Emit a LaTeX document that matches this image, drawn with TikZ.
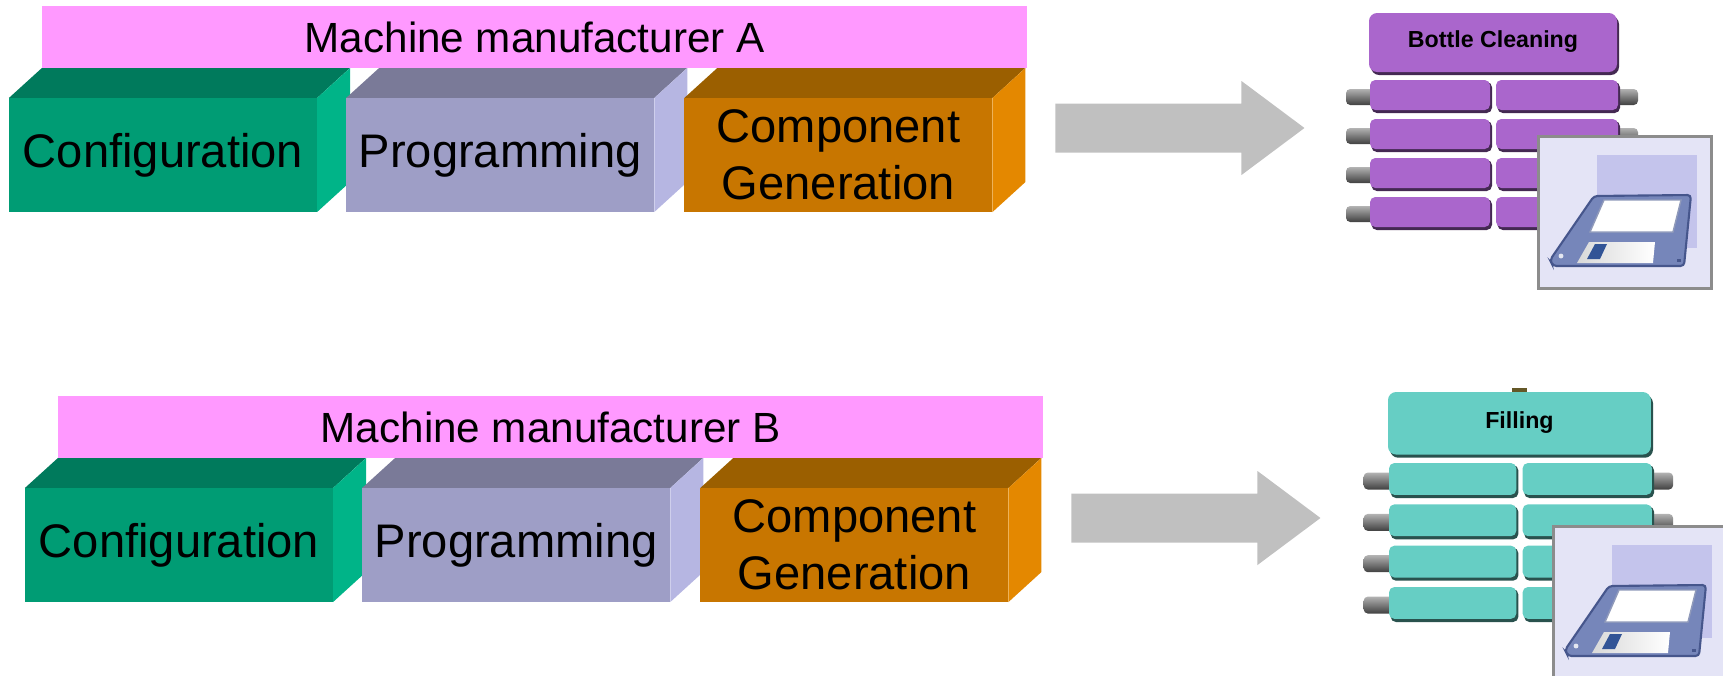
\documentclass[tikz,border=0pt]{standalone}
\usepackage{fontspec}
\setmainfont{Liberation Sans}
\usetikzlibrary{positioning, backgrounds}
\definecolor{mfrPink}{RGB}{255,153,255}
\definecolor{cfgFront}{RGB}{0,156,116}
\definecolor{cfgTop}{RGB}{0,122,92}
\definecolor{cfgSide}{RGB}{0,180,136}
\definecolor{prgFront}{RGB}{158,158,198}
\definecolor{prgTop}{RGB}{122,122,152}
\definecolor{prgSide}{RGB}{182,182,226}
\definecolor{cmpFront}{RGB}{200,118,0}
\definecolor{cmpTop}{RGB}{155,95,0}
\definecolor{cmpSide}{RGB}{228,136,0}
\definecolor{arrowGrey}{RGB}{192,192,192}
\definecolor{stationPurple}{RGB}{170,102,204}
\definecolor{stationTeal}{RGB}{102,206,196}
\definecolor{panelFill}{RGB}{228,228,246}
\definecolor{panelInner}{RGB}{196,196,236}
\definecolor{panelEdge}{RGB}{140,140,140}
\definecolor{diskBlue}{RGB}{118,134,186}
\definecolor{diskEdge}{RGB}{70,86,140}
\definecolor{diskSlot}{RGB}{50,84,150}
\definecolor{markOlive}{RGB}{100,88,40}

% top and side face of a block, drawn from its front node
\newcommand\cubefaces[3]{%
  \fill[#2] (#1.north west) -- ++(33,-30) -- ++(308,0) -- (#1.north east) -- cycle;
  \fill[#3] (#1.north east) -- ++(33,-30) -- ++(0,114) -- (#1.south east) -- cycle;}

\newcommand\fatarrow[1]{%
  \fill[arrowGrey] (#1) ++(0,-24.5) -- ++(186,0) -- ++(0,-22.5) -- ++(63,47)
    -- ++(-63,47) -- ++(0,-22.5) -- ++(-186,0) -- cycle;}

% station symbol: title bar over four rows of slats with pins
\newcommand\stationicon[5]{%
  \begin{scope}[shift={(#2)}, scale=#3]
    \foreach \slat in {0,...,3} {
      \shade[top color=black!30, middle color=black!15, bottom color=black!75, rounded corners=1.2pt]
        (-23,76+39*\slat) rectangle (10,92+39*\slat);
      \shade[top color=black!30, middle color=black!15, bottom color=black!75, rounded corners=1.2pt]
        (240,76+39*\slat) rectangle (269,92+39*\slat);
      \fill[#4!40!black, rounded corners=1.5pt] (2.5,69+39*\slat) rectangle (123,100+39*\slat);
      \fill[#4, rounded corners=1.5pt] (1,67+39*\slat) rectangle (121,97+39*\slat);
      \fill[#4!40!black, rounded corners=1.5pt] (128.5,69+39*\slat) rectangle (251,100+39*\slat);
      \fill[#4, rounded corners=1.5pt] (127,67+39*\slat) rectangle (249,97+39*\slat);
    }
    \fill[#4!40!black, rounded corners=2.3pt] (2,3) rectangle (250,62);
    \fill[#4, rounded corners=2.3pt] (0,0) rectangle (248,59);
    \node[stationlabel] (#1) at (124,29) {#5};
  \end{scope}}

\newcommand\floppy{%
  \fill[panelInner] (60,20) rectangle (160,113);
  \filldraw[fill=diskBlue, draw=diskEdge, line width=0.6pt, rounded corners=1pt]
    (57,61) -- (154,60) -- (147,131) -- (16,131) -- (13,125) -- cycle;
  \filldraw[fill=white, draw=diskEdge!60, line width=0.4pt] (67,65) -- (144,65) -- (136,97) -- (53,97) -- cycle;
  \shade[left color=black!15, right color=white] (52,107) -- (118,107) -- (116,128) -- (40,128) -- cycle;
  \fill[diskSlot] (58,109) -- (70,109) -- (63,124) -- (50,124) -- cycle;
  \fill[white!80!diskBlue] (24,121) circle (0.7pt);
  \fill[diskEdge] (140,124) rectangle (144,127);}

\begin{document}
\begin{tikzpicture}[x=0.01cm, y=-0.01cm,
    front/.style={minimum width=3.08cm, minimum height=1.14cm, inner sep=0pt, outer sep=0pt,
      align=center, font=\fontsize{13.4}{16.3}\selectfont},
    mfrbar/.style={fill=mfrPink, minimum width=9.85cm, minimum height=0.62cm, inner sep=0pt,
      outer sep=0pt, anchor=south west, font=\fontsize{12}{14}\selectfont},
    stationlabel/.style={font=\bfseries\fontsize{6.6}{8}\selectfont, inner sep=0pt},
    diskpanel/.style={fill=panelFill, draw=panelEdge, line width=0.8pt, minimum width=1.73cm,
      minimum height=1.52cm, anchor=north west, inner sep=0pt}
  ]
  \useasboundingbox (0,0) rectangle (1723,675);

  \node[front, fill=cfgFront] (cfgA) at (163,155) {Configuration};
  \node[front, fill=prgFront, right=0.29cm of cfgA] (prgA) {Programming};
  \node[front, fill=cmpFront, right=0.30cm of prgA] (cmpA) {Component\\Generation};
  \node[mfrbar] (mfrA) at ([shift={(33,-30)}]cfgA.north west) {Machine manufacturer A};

  \node[front, fill=cfgFront] (cfgB) at (179,545) {Configuration};
  \node[front, fill=prgFront, right=0.29cm of cfgB] (prgB) {Programming};
  \node[front, fill=cmpFront, right=0.30cm of prgB] (cmpB) {Component\\Generation};
  \node[mfrbar] (mfrB) at ([shift={(33,-30)}]cfgB.north west) {Machine manufacturer B};

  \begin{scope}[on background layer]
    \cubefaces{cfgA}{cfgTop}{cfgSide}
    \cubefaces{prgA}{prgTop}{prgSide}
    \cubefaces{cmpA}{cmpTop}{cmpSide}
    \cubefaces{cfgB}{cfgTop}{cfgSide}
    \cubefaces{prgB}{prgTop}{prgSide}
    \cubefaces{cmpB}{cmpTop}{cmpSide}
  \end{scope}

  \coordinate (arrA) at ([shift={(63,-27)}]cmpA.east);
  \coordinate (arrB) at ([shift={(63,-27)}]cmpB.east);
  \fatarrow{arrA}
  \fatarrow{arrB}

  \stationicon{bcTitle}{1369,13}{1}{stationPurple}{Bottle Cleaning}
  \node[diskpanel] (bcDisk) at (1537,135) {};
  \begin{scope}[shift={(bcDisk.north west)}] \floppy \end{scope}

  \fill[markOlive] (1512,388) rectangle (1527,392);
  \stationicon{flTitle}{1388,392}{1.06}{stationTeal}{Filling}
  \node[diskpanel] (flDisk) at (1552,525) {};
  \begin{scope}[shift={(flDisk.north west)}] \floppy \end{scope}
\end{tikzpicture}
\end{document}
